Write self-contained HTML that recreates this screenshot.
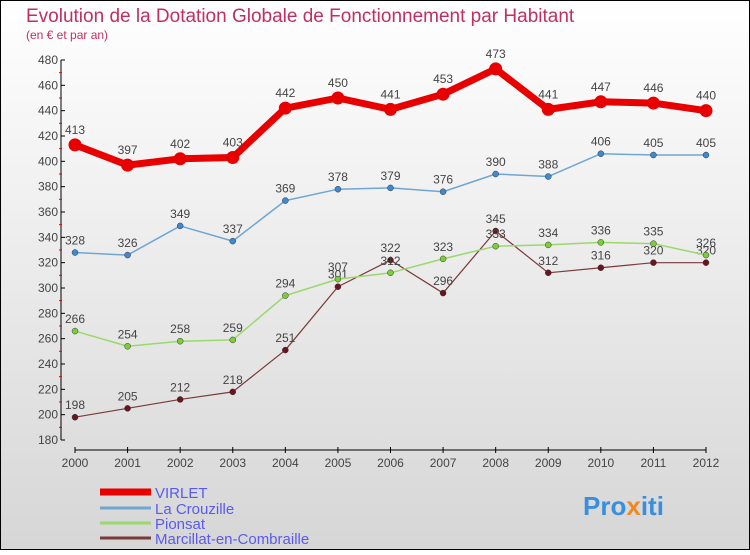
<!DOCTYPE html>
<html><head><meta charset="utf-8"><style>
html,body{margin:0;padding:0}
body{width:750px;height:550px;overflow:hidden;font-family:"Liberation Sans",sans-serif}
</style></head><body>
<svg id="chart" width="750" height="550" xmlns="http://www.w3.org/2000/svg">
<defs><linearGradient id="bg" x1="0" y1="0" x2="0" y2="1"><stop offset="0" stop-color="#ffffff"/><stop offset="1" stop-color="#d6d6d6"/></linearGradient></defs>
<rect x="0.5" y="0.5" width="749" height="549" fill="url(#bg)" stroke="#000"/>
<text x="26" y="22" font-size="19" fill="#c0305e">Evolution de la Dotation Globale de Fonctionnement par Habitant</text>
<text x="26" y="39" font-size="12" fill="#c0305e">(en € et par an)</text>
<g id="axes"></g><g id="series"></g><g id="legend"></g>
<text x="583" y="515" font-size="26" font-weight="bold" fill="#3a8ee0">Pro<tspan fill="#f08a20">x</tspan>iti</text>
</svg>
<script>
const years=["2000","2001","2002","2003","2004","2005","2006","2007","2008","2009","2010","2011","2012"];
const yTicks=[180,200,220,240,260,280,300,320,340,360,380,400,420,440,460,480];
const virlet=[413,397,402,403,442,450,441,453,473,441,447,446,440];
const crouzille=[328,326,349,337,369,378,379,376,390,388,406,405,405];
const pionsat=[266,254,258,259,294,307,312,323,333,334,336,335,326];
const marcillat=[198,205,212,218,251,301,322,296,345,312,316,320,320];
const names=["VIRLET","La Crouzille","Pionsat","Marcillat-en-Combraille"];
const NS="http://www.w3.org/2000/svg";
const X0=75,X1=706,Y0=440,Y1=60,VMIN=180,VMAX=480;
function xs(i){return X0+(X1-X0)*i/(years.length-1);}
function ys(v){return Y0-(v-VMIN)*(Y0-Y1)/(VMAX-VMIN);}
function mk(tag,attrs,parent){const e=document.createElementNS(NS,tag);for(const k in attrs)e.setAttribute(k,attrs[k]);parent.appendChild(e);return e;}
const axes=document.getElementById('axes');
let e=mk('line',{x1:61,y1:Y1,x2:61,y2:Y0,stroke:'#000'},axes);


e=mk('line',{x1:X0,y1:450,x2:X1,y2:450,stroke:'#000'},axes);


yTicks.forEach((v,i)=>{
  const y=ys(v);
  mk('line',{x1:61,y1:y,x2:65,y2:y,stroke:'#000'},axes);
  if(i<yTicks.length-1) mk('line',{x1:59,y1:y-12.7,x2:62,y2:y-12.7,stroke:'#e00'},axes);
  const t=mk('text',{x:58,y:y+4,'font-size':12,'text-anchor':'end',fill:'#444'},axes);
  t.textContent=v;
  
  
});
years.forEach((yr,i)=>{
  const x=xs(i);
  mk('line',{x1:x,y1:447,x2:x,y2:453,stroke:'#000'},axes);
  const t=mk('text',{x:x,y:467,'font-size':12,'text-anchor':'middle',fill:'#444'},axes);
  t.textContent=yr;
  
  
});
const series=[
 {d:virlet,c:'#e80000',w:7,r:6.5,f:'#e80000',n:'virlet',o:11},
 {d:crouzille,c:'#6fa6d4',w:1.5,r:3,f:'#3d8ad0',n:'la-crouzille',o:8},
 {d:pionsat,c:'#99d96c',w:1.5,r:3,f:'#7ccd3a',n:'pionsat',o:8},
 {d:marcillat,c:'#7a3a3a',w:1.2,r:3,f:'#6a1420',n:'marcillat',o:8}];
const sg=document.getElementById('series');
series.slice().reverse().forEach(s=>{
  const g=mk('g',{},sg);
  
  
  const p=mk('polyline',{points:s.d.map((v,i)=>xs(i)+','+ys(v)).join(' '),fill:'none',stroke:s.c,'stroke-width':s.w,'stroke-linejoin':'round'},g);
  
  
  s.d.forEach((v,i)=>{
    const c=mk('circle',{cx:xs(i),cy:ys(v),r:s.r,fill:s.f,stroke:s.n=='virlet'?'none':'#333','stroke-width':0.5},g);
    
    
    const t=mk('text',{x:xs(i),y:ys(v)-s.o,'font-size':12,'text-anchor':'middle',fill:'#444'},g);
    t.textContent=v;
    
    
  });
});
const lg=document.getElementById('legend');
const lys=[492,508,523,538],lw=[7,3,3,3];
names.forEach((n,i)=>{
  const g=mk('g',{},lg);
  
  
  mk('line',{x1:100,y1:lys[i],x2:151,y2:lys[i],stroke:series[i].c,'stroke-width':lw[i]},g);
  const t=mk('text',{x:155,y:lys[i]+6,'font-size':15,fill:'#5a5af0'},g);
  t.textContent=n;
});
</script>
</body></html>
